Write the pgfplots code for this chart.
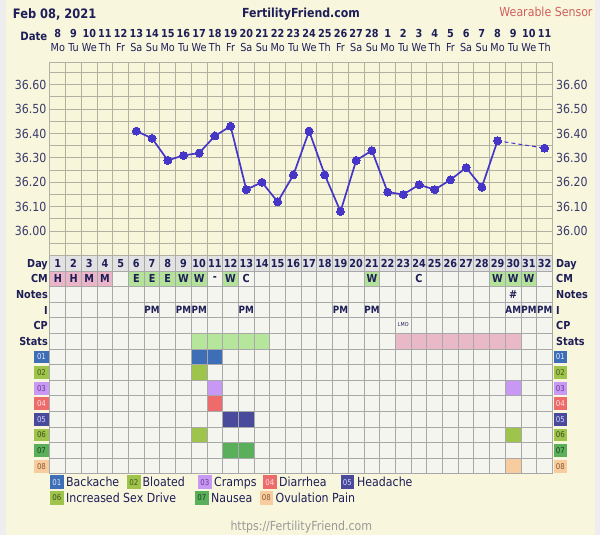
\documentclass[border=0pt]{standalone}
\usepackage{pgfplots}
\pgfplotsset{compat=1.18}
\usepackage{fontspec}
\setmainfont{DejaVu Sans}[FakeStretch=0.88]
\definecolor{outer}{HTML}{EEEEEE}
\definecolor{panel}{HTML}{F8F6DC}
\definecolor{plotbg}{HTML}{F8F6DA}
\definecolor{gridT}{HTML}{B2B0A2}
\definecolor{gridL}{HTML}{A8A8A8}
\definecolor{cellbg}{HTML}{F5F5F0}
\definecolor{dayrow}{HTML}{E2E2E2}
\definecolor{navy}{HTML}{1E1E58}
\definecolor{tickc}{HTML}{3A3A6C}
\definecolor{tempc}{HTML}{4636C8}
\definecolor{cmpink}{HTML}{EAB6C7}
\definecolor{cmgreen}{HTML}{B4E29A}
\definecolor{stgreen}{HTML}{B6E59C}
\definecolor{stpink}{HTML}{E9B9C8}
\definecolor{s1}{HTML}{3E6EB6}
\definecolor{s2}{HTML}{9EC44C}
\definecolor{s3}{HTML}{C898F5}
\definecolor{s4}{HTML}{EE6B6B}
\definecolor{s5}{HTML}{4A4A9C}
\definecolor{s6}{HTML}{9EC44C}
\definecolor{s7}{HTML}{5AAF5A}
\definecolor{s8}{HTML}{F7CC9E}
\definecolor{t1}{HTML}{DDE6FF}
\definecolor{t2}{HTML}{46561E}
\definecolor{t3}{HTML}{6A3A8A}
\definecolor{t4}{HTML}{FFE2E2}
\definecolor{t5}{HTML}{D4D4FF}
\definecolor{t6}{HTML}{3E4E1E}
\definecolor{t7}{HTML}{1E401E}
\definecolor{t8}{HTML}{8A5A30}
\definecolor{redtxt}{HTML}{D0605E}
\definecolor{urlc}{HTML}{999999}
\newcommand\fsz[1]{\fontsize{#1}{#1}\selectfont}
\pgfplotsset{
  cell/.style={only marks, mark=square*, mark size=7.8pt, color=#1, mark options={color=#1, fill=#1, draw=#1, line width=0pt}},
  celltext/.style={draw=none, nodes near coords, point meta=explicit symbolic,
     nodes near coords align={center},
     every node near coord/.append style={font=#1, text=navy, inner sep=0pt, anchor=center}},
  lowergeom/.style={at={(50pt,61pt)}, anchor=south west, scale only axis,
     width=502.5pt, height=218.5pt, xmin=0.5, xmax=32.5, ymin=0, ymax=14,
     axis line style={draw=gridL, line width=1pt},
     xtick={1.5,2.5,...,31.5}, ytick={1,2,...,13},
     xticklabels={}, yticklabels={},
     xmajorgrids, ymajorgrids,
     major grid style={draw=gridL, line width=1pt},
     major tick length=0pt},
}
\tikzset{
  lbl/.style={font=\bfseries\fsz{11}, text=navy, inner sep=0pt, text height=8pt, text depth=0pt},
  lgd/.style={font=\fsz{12.5}, text=navy, inner sep=0pt, text height=9.1pt, text depth=0pt, anchor=west},
  sbox/.style n args={3}{fill=#1, text=#2, font=\fsz{8}, inner sep=0pt, minimum width=#3, minimum height=12.7pt},
}
\begin{document}
\begin{tikzpicture}
\useasboundingbox (0pt,0pt) rectangle (600pt,535pt);
\fill[outer] (0pt,0pt) rectangle (600pt,535pt);
\fill[panel] (6pt,0pt) rectangle (595pt,535pt);

% ---------------- lower grid (rows: Day=13.5 ... 08=0.5) ----------------
\begin{axis}[lowergeom,
  axis background/.style={fill=cellbg},
  clip=false,
]
\fill[dayrow] (axis cs:0.5,13) rectangle (axis cs:32.5,14);
% CM
\addplot[cell=cmpink] coordinates {(1,12.5) (2,12.5) (3,12.5) (4,12.5)};
\addplot[cell=cmgreen] coordinates {(6,12.5) (7,12.5) (8,12.5) (9,12.5) (10,12.5) (12,12.5) (21,12.5) (29,12.5) (30,12.5) (31,12.5)};
% Stats
\addplot[cell=stgreen] coordinates {(10,8.5) (11,8.5) (12,8.5) (13,8.5) (14,8.5)};
\addplot[cell=stpink] coordinates {(23,8.5) (24,8.5) (25,8.5) (26,8.5) (27,8.5) (28,8.5) (29,8.5) (30,8.5)};
% symptoms
\addplot[cell=s1] coordinates {(10,7.5) (11,7.5)};
\addplot[cell=s2] coordinates {(10,6.5)};
\addplot[cell=s3] coordinates {(11,5.5) (30,5.5)};
\addplot[cell=s4] coordinates {(11,4.5)};
\addplot[cell=s5] coordinates {(12,3.5) (13,3.5)};
\addplot[cell=s6] coordinates {(10,2.5) (30,2.5)};
\addplot[cell=s7] coordinates {(12,1.5) (13,1.5)};
\addplot[cell=s8] coordinates {(30,0.5)};
\end{axis}

% grid on top of the cells, then cell texts
\begin{axis}[lowergeom, clip=false]
\addplot[celltext={\bfseries\fsz{11}}] coordinates {
 (1,13.5)[1] (2,13.5)[2] (3,13.5)[3] (4,13.5)[4] (5,13.5)[5] (6,13.5)[6] (7,13.5)[7] (8,13.5)[8]
 (9,13.5)[9] (10,13.5)[10] (11,13.5)[11] (12,13.5)[12] (13,13.5)[13] (14,13.5)[14] (15,13.5)[15] (16,13.5)[16]
 (17,13.5)[17] (18,13.5)[18] (19,13.5)[19] (20,13.5)[20] (21,13.5)[21] (22,13.5)[22] (23,13.5)[23] (24,13.5)[24]
 (25,13.5)[25] (26,13.5)[26] (27,13.5)[27] (28,13.5)[28] (29,13.5)[29] (30,13.5)[30] (31,13.5)[31] (32,13.5)[32]};
\addplot[celltext={\bfseries\fsz{11}}] coordinates {
 (1,12.5)[H] (2,12.5)[H] (3,12.5)[M] (4,12.5)[M] (6,12.5)[E] (7,12.5)[E] (8,12.5)[E] (9,12.5)[W]
 (10,12.5)[W] (11,12.5)[-] (12,12.5)[W] (13,12.5)[C] (21,12.5)[W] (24,12.5)[C] (29,12.5)[W] (30,12.5)[W] (31,12.5)[W]};
\addplot[celltext={\bfseries\fsz{11}}] coordinates {(30,11.5)[\#]};
\addplot[celltext={\bfseries\fsz{10}}] coordinates {
 (7,10.5)[PM] (9,10.5)[PM] (10,10.5)[PM] (13,10.5)[PM] (19,10.5)[PM] (21,10.5)[PM] (30,10.5)[AM] (31,10.5)[PM] (32,10.5)[PM]};
\addplot[celltext={\fsz{5.5}}] coordinates {(23,9.6)[LMO]};
\end{axis}

% ---------------- temperature chart ----------------
\begin{axis}[
  at={(50pt,279.5pt)}, anchor=south west, scale only axis,
  width=502.5pt, height=193.5pt,
  xmin=0.5, xmax=32.5, ymin=35.9, ymax=36.693,
  axis background/.style={fill=plotbg},
  axis line style={draw=gridT, line width=1pt},
  xtick={1.5,2.5,...,31.5}, xticklabels={},
  ytick={36.0,36.1,36.2,36.3,36.4,36.5,36.6},
  minor ytick={35.95,36.05,36.15,36.25,36.35,36.45,36.55,36.65},
  xmajorgrids, ymajorgrids, yminorgrids,
  major grid style={draw=gridT, line width=1pt},
  minor grid style={draw=gridT, line width=1pt},
  major tick length=0pt, minor tick length=0pt,
  yticklabel style={font=\fsz{12.5}, text=tickc},
  /pgf/number format/fixed, /pgf/number format/fixed zerofill,
  /pgf/number format/precision=2, /pgf/number format/assume math mode=true,
]
\addplot[tempc, line width=1.7pt, mark=*, mark size=4pt, mark options={fill=tempc, draw=tempc, line width=0pt}] coordinates {
 (6,36.41) (7,36.38) (8,36.29) (9,36.31) (10,36.32) (11,36.39) (12,36.43) (13,36.17) (14,36.20)
 (15,36.12) (16,36.23) (17,36.41) (18,36.23) (19,36.08) (20,36.29) (21,36.33) (22,36.16) (23,36.15)
 (24,36.19) (25,36.17) (26,36.21) (27,36.26) (28,36.18) (29,36.37)};
\addplot[tempc, line width=1pt, dash pattern=on 4pt off 3pt, mark=*, mark size=4pt, mark options={solid, fill=tempc, draw=tempc, line width=0pt}] coordinates {(29,36.37) (32,36.34)};
\end{axis}

% right tick labels
\begin{axis}[
  at={(50pt,279.5pt)}, anchor=south west, scale only axis,
  width=502.5pt, height=193.5pt,
  xmin=0.5, xmax=32.5, ymin=35.9, ymax=36.693,
  axis x line=none, axis y line*=right, axis line style={draw=none},
  ytick={36.0,36.1,36.2,36.3,36.4,36.5,36.6},
  major tick length=0pt,
  yticklabel style={font=\fsz{12.5}, text=tickc},
  /pgf/number format/fixed, /pgf/number format/fixed zerofill,
  /pgf/number format/precision=2, /pgf/number format/assume math mode=true,
]
\addplot[draw=none] coordinates {(1,36.0)};
\end{axis}

% ---------------- header ----------------
\node[anchor=west, font=\bfseries\fsz{13}, text=navy, inner sep=0pt, text height=9.5pt, text depth=0pt] at (12.7pt,521.7pt) {Feb 08, 2021};
\node[font=\bfseries\fsz{12.5}, text=navy, inner sep=0pt, text height=9.1pt, text depth=0pt] at (301pt,521.7pt) {FertilityFriend.com};
\node[font=\fsz{12.5}, text=redtxt, inner sep=0pt, text height=9.1pt, text depth=0pt] at (546pt,523pt) {Wearable Sensor};
\node[anchor=east, font=\bfseries\fsz{11.5}, text=navy, inner sep=0pt, text height=8.4pt, text depth=0pt] at (47.5pt,498.5pt) {Date};
\foreach \d/\w [count=\i] in {8/Mo,9/Tu,10/We,11/Th,12/Fr,13/Sa,14/Su,15/Mo,16/Tu,17/We,18/Th,19/Fr,20/Sa,21/Su,22/Mo,23/Tu,24/We,25/Th,26/Fr,27/Sa,28/Su,1/Mo,2/Tu,3/We,4/Th,5/Fr,6/Sa,7/Su,8/Mo,9/Tu,10/We,11/Th} {
  \pgfmathsetmacro\xx{50+(\i-0.5)*15.703}
  \node[font=\bfseries\fsz{11}, text=navy, inner sep=0pt, text height=8pt, text depth=0pt] at (\xx pt,501.7pt) {\d};
  \node[font=\fsz{11}, text=navy, inner sep=0pt, text height=8pt, text depth=0pt] at (\xx pt,487.3pt) {\w};
}

% ---------------- row labels ----------------
\foreach \lab [count=\r from 0] in {Day,CM,Notes,I,CP,Stats} {
  \pgfmathsetmacro\yy{279.5-15.607*(\r+0.5)}
  \node[lbl, anchor=east] at (48pt,\yy pt) {\lab};
  \node[lbl, anchor=west] at (556pt,\yy pt) {\lab};
}
\foreach \c/\t/\l [count=\r from 6] in {s1/t1/01,s2/t2/02,s3/t3/03,s4/t4/04,s5/t5/05,s6/t6/06,s7/t7/07,s8/t8/08} {
  \pgfmathsetmacro\yy{279.5-15.607*(\r+0.5)}
  \node[sbox={\c}{\t}{14.5pt}] at (41.5pt,\yy pt) {\l};
  \node[sbox={\c}{\t}{12.7pt}] at (560.3pt,\yy pt) {\l};
}

% ---------------- legend ----------------
\foreach \bx/\tx/\c/\t/\l/\name in {50/66/s1/t1/01/Backache, 127/142.5/s2/t2/02/Bloated, 198/214/s3/t3/03/Cramps, 263/279/s4/t4/04/Diarrhea, 340.5/357/s5/t5/05/Headache} {
  \node[sbox={\c}{\t}{13.5pt}, minimum height=14pt, anchor=west] at (\bx pt,52.7pt) {\l};
  \node[lgd] at (\tx pt,52.7pt) {\name};
}
\foreach \bx/\tx/\c/\t/\l/\name in {50/66/s6/t6/06/Increased Sex Drive, 195/211/s7/t7/07/Nausea, 259.5/275.5/s8/t8/08/Ovulation Pain} {
  \node[sbox={\c}{\t}{13.5pt}, minimum height=14pt, anchor=west] at (\bx pt,37.3pt) {\l};
  \node[lgd] at (\tx pt,37.3pt) {\name};
}

\node[font=\fsz{12.5}, text=urlc, inner sep=0pt, text height=9.1pt, text depth=0pt] at (301.3pt,9pt) {https://FertilityFriend.com};
\end{tikzpicture}
\end{document}
